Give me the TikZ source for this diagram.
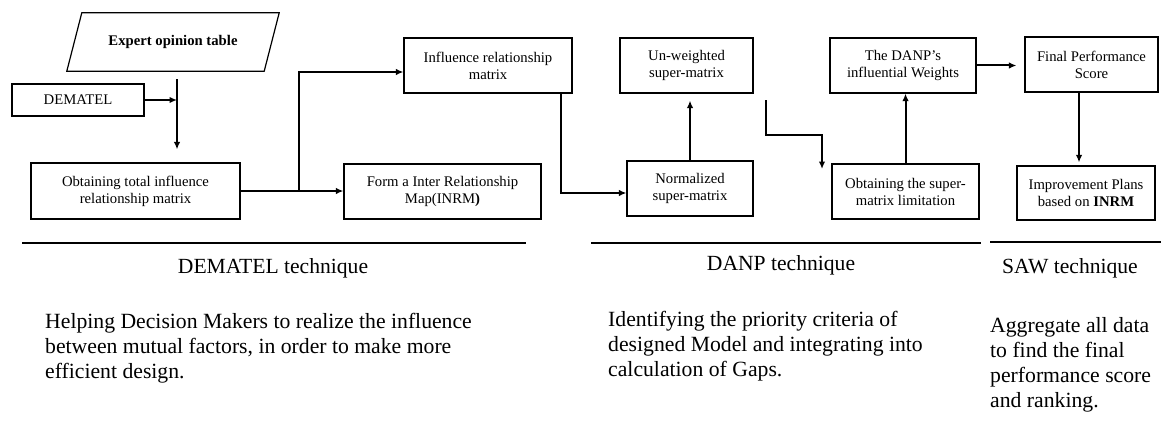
\documentclass[tikz,border=0pt]{standalone}
\usepackage{fontspec}
\setmainfont{Liberation Serif}
\usetikzlibrary{arrows.meta}
\begin{document}
\begin{tikzpicture}[x=1pt,y=-1pt,
 box/.style={draw, line width=1.2pt, inner sep=2pt, align=center, font=\fontsize{14.7}{17}\selectfont},
 conn/.style={line width=2pt},
 arr/.style={conn, -{Latex[length=7.5pt,width=6.5pt]}},
 tech/.style={font=\fontsize{21.6}{25}\selectfont, anchor=base, inner sep=0pt},
 desc/.style={font=\fontsize{21.7}{25}\selectfont, anchor=base west, align=left, inner sep=0pt},
 rulestyle/.style={line width=1.4pt}]
\useasboundingbox (0,0) rectangle (1161,420);
\fill[white] (0,0) rectangle (1161,420);

% parallelogram
\node[inner sep=0pt, minimum width=197pt, minimum height=58pt, font=\bfseries\fontsize{14.7}{17}\selectfont] (expert) at (173,42) {Expert opinion table};
\draw[line width=1.2pt] ([xshift=-7.5pt]expert.south west) -- ([xshift=7.5pt]expert.north west) -- ([xshift=7.5pt]expert.north east) -- ([xshift=-7.5pt]expert.south east) -- cycle;

\node[box, minimum width=132pt, minimum height=32pt] (dematel) at (78,100) {DEMATEL};
\node[box, minimum width=209pt, minimum height=56pt] (total) at (135.5,191) {Obtaining total influence\\relationship matrix};
\node[box, minimum width=168pt, minimum height=55pt] (influence) at (488,65.5) {Influence relationship\\matrix};
\node[box, minimum width=197pt, minimum height=55pt] (form) at (442.5,191.5) {Form a Inter Relationship\\Map(INRM\textbf{)}};
\node[box, minimum width=133pt, minimum height=55pt] (unweighted) at (686.5,65.5) {Un-weighted\\super-matrix};
\node[box, minimum width=126pt, minimum height=55pt] (normalized) at (690,188.5) {Normalized\\super-matrix};
\node[box, minimum width=146pt, minimum height=55pt] (weights) at (903,65.5) {The DANP’s\\influential Weights};
\node[box, minimum width=147pt, minimum height=55pt] (limit) at (905.5,191.5) {Obtaining the super-\\matrix limitation};
\node[box, minimum width=133pt, minimum height=55pt] (final) at (1091.5,64.5) {Final Performance\\Score};
\node[box, minimum width=138pt, minimum height=54pt] (improve) at (1086,193) {Improvement Plans\\based on \textbf{INRM}};

% connectors
\coordinate (j1) at (177,79);
\draw[arr] (dematel.east) -- (j1 |- dematel.east);
\draw[arr, shorten >=13pt] (j1) -- (j1 |- total.north);

\coordinate (b1) at (299,191);
\draw[arr] (total.east) -- (total.east -| form.west);
\draw[arr] (total.east -| b1) |- ([yshift=-6.5pt]influence.west);

\draw[arr] ([xshift=73pt]influence.south) |- ([yshift=-4.5pt]normalized.west);
\draw[arr, shorten >=7pt] (normalized.north) -- (normalized.north |- unweighted.south);

\coordinate (s1) at (766,100);
\coordinate (s2) at (822,135);
\coordinate (s3) at (822,169);
\draw[arr] (s1) |- (s2) -- (s3);

\draw[arr] (limit.north) -- (limit.north |- weights.south);
\draw[arr, shorten >=8pt] (weights.east) -- (weights.east -| final.west);
\coordinate (f1) at (1079,0);
\draw[arr, shorten >=3pt] (final.south -| f1) -- (improve.north -| f1);

% rules
\draw[rulestyle] (22,243) -- (526,243);
\draw[rulestyle] (591,243) -- (981,243);
\draw[rulestyle] (990,242) -- (1161,242);

% labels
\node[tech] (t1) at (273,273) {DEMATEL technique};
\node[tech] (t2) at (781,270) {DANP technique};
\node[tech] (t3) at (1070,273) {SAW technique};

\node[desc] (d1) at (45,378) {Helping Decision Makers to realize the influence\\between mutual factors, in order to make more\\efficient design.};
\node[desc] (d2) at (608,376) {Identifying the priority criteria of\\designed Model and integrating into\\calculation of Gaps.};
\node[desc] (d3) at (990,407) {Aggregate all data\\to find the final\\performance score\\and ranking.};
\end{tikzpicture}
\end{document}
